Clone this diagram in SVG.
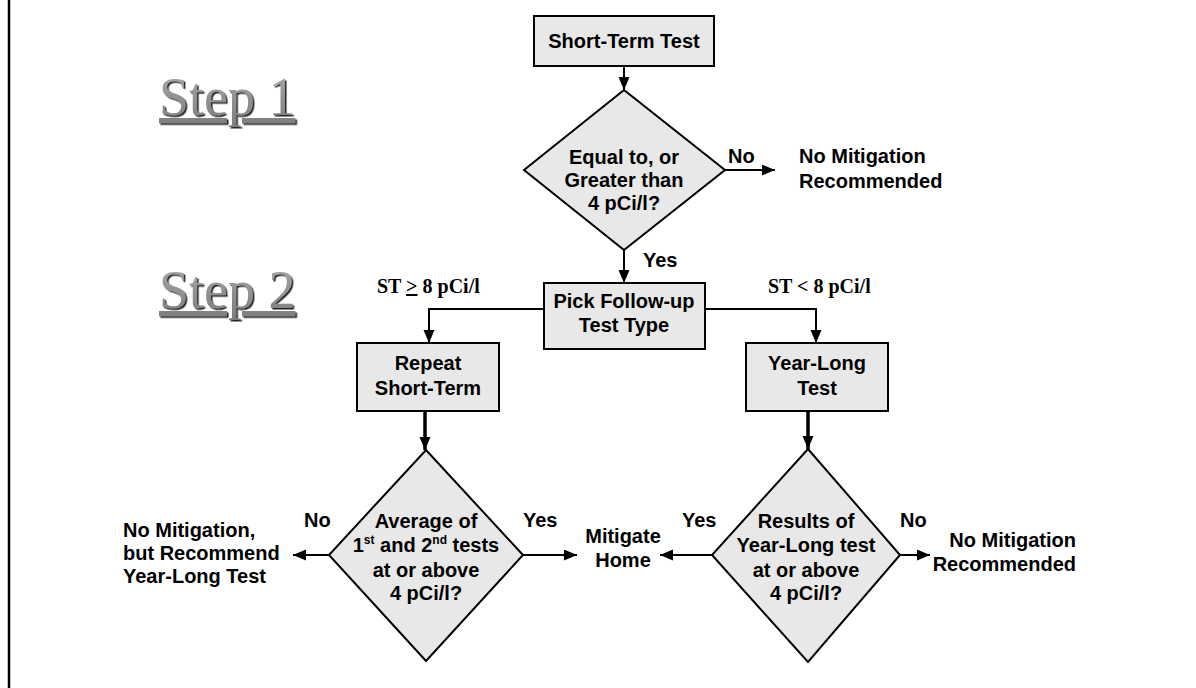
<svg xmlns="http://www.w3.org/2000/svg" width="1196" height="688" viewBox="0 0 1196 688">
<style>
.t{font-family:"Liberation Sans",Arial,sans-serif;font-weight:bold;font-size:20px;fill:#000}
.c{text-anchor:middle}
.e{text-anchor:end}
.s{font-family:"Liberation Serif","Times New Roman",serif;font-weight:bold;font-size:20px;fill:#000}
.box{fill:#e8e8e8;stroke:#000;stroke-width:2}
.ln{fill:none;stroke:#000;stroke-width:2}
.thick{fill:none;stroke:#000;stroke-width:3.5}
</style>
<defs>
<linearGradient id="g" x1="0" y1="0" x2="0" y2="1">
<stop offset="0" stop-color="#aaaaaa"/>
<stop offset="1" stop-color="#7c7c7c"/>
</linearGradient>
<filter id="sh" x="-10%" y="-10%" width="130%" height="130%">
<feDropShadow dx="1.5" dy="1.5" stdDeviation="0.4" flood-color="#222" flood-opacity="1"/>
</filter>
<marker id="a" markerUnits="userSpaceOnUse" markerWidth="14" markerHeight="12" refX="13" refY="5.5" orient="auto">
<path d="M0,0 L13,5.5 L0,11 z" fill="#000"/>
</marker>
</defs>
<rect width="1196" height="688" fill="#fff"/>
<line x1="9" y1="0" x2="9" y2="688" stroke="#000" stroke-width="2.5"/>

<g id="labels-steps" font-family="'Liberation Serif', 'Times New Roman', serif" font-size="54" fill="url(#g)" filter="url(#sh)">
<text x="159" y="115" text-decoration="underline">Step 1</text>
<text x="159" y="308" text-decoration="underline">Step 2</text>
</g>

<g id="connectors">
<line class="ln" x1="624" y1="66" x2="624" y2="90" marker-end="url(#a)"/>
<line class="ln" x1="725" y1="170" x2="775" y2="170" marker-end="url(#a)"/>
<line class="ln" x1="624" y1="250" x2="624" y2="283" marker-end="url(#a)"/>
<polyline class="ln" points="544,309 429,309 429,343" marker-end="url(#a)"/>
<polyline class="ln" points="705,309 816,309 816,343" marker-end="url(#a)"/>
<line class="thick" x1="425" y1="411" x2="425" y2="450" marker-end="url(#a)"/>
<line class="thick" x1="808" y1="411" x2="808" y2="449" marker-end="url(#a)"/>
<line class="ln" x1="329" y1="555" x2="293" y2="555" marker-end="url(#a)"/>
<line class="ln" x1="523" y1="555" x2="577" y2="555" marker-end="url(#a)"/>
<line class="ln" x1="712" y1="555" x2="660" y2="555" marker-end="url(#a)"/>
<line class="ln" x1="900" y1="555" x2="930" y2="555" marker-end="url(#a)"/>
<text class="t" x="728" y="163">No</text>
<text class="t" x="643" y="267">Yes</text>
<text class="s" x="377" y="293">ST <tspan text-decoration="underline">&gt;</tspan> 8 pCi/l</text>
<text class="s" x="768" y="293">ST &lt; 8 pCi/l</text>
<text class="t" x="304" y="527">No</text>
<text class="t" x="523" y="527">Yes</text>
<text class="t" x="682" y="527">Yes</text>
<text class="t" x="900" y="527">No</text>
</g>

<g id="short-term-test">
<rect class="box" x="534" y="16" width="180" height="50"/>
<text class="t c" x="624" y="48">Short-Term Test</text>
</g>

<g id="decision-1">
<polygon class="box" points="624,90 725,170 624,250 524,170"/>
<text class="t c" x="624" y="164">Equal to, or</text>
<text class="t c" x="624" y="187">Greater than</text>
<text class="t c" x="624" y="210">4 pCi/l?</text>
</g>

<g id="no-mitigation-1">
<text class="t" x="799" y="163">No Mitigation</text>
<text class="t" x="799" y="188">Recommended</text>
</g>

<g id="pick-follow-up">
<rect class="box" x="544" y="283" width="161" height="66"/>
<text class="t c" x="624" y="308">Pick Follow-up</text>
<text class="t c" x="624" y="332">Test Type</text>
</g>

<g id="repeat-short-term">
<rect class="box" x="357" y="343" width="142" height="68"/>
<text class="t c" x="428" y="370">Repeat</text>
<text class="t c" x="428" y="395">Short-Term</text>
</g>

<g id="year-long-test">
<rect class="box" x="746" y="343" width="142" height="68"/>
<text class="t c" x="817" y="370">Year-Long</text>
<text class="t c" x="817" y="395">Test</text>
</g>

<g id="decision-2">
<polygon class="box" points="426,450 523,555 426,661 329,555"/>
<text class="t c" x="426" y="528">Average of</text>
<text class="t c" x="426" y="552">1<tspan font-size="12" dy="-8">st</tspan><tspan dy="8"> and 2</tspan><tspan font-size="12" dy="-8">nd</tspan><tspan dy="8"> tests</tspan></text>
<text class="t c" x="426" y="577">at or above</text>
<text class="t c" x="426" y="600">4 pCi/l?</text>
</g>

<g id="decision-3">
<polygon class="box" points="808,449 900,555 808,662 712,555"/>
<text class="t c" x="806" y="528">Results of</text>
<text class="t c" x="806" y="552">Year-Long test</text>
<text class="t c" x="806" y="577">at or above</text>
<text class="t c" x="806" y="600">4 pCi/l?</text>
</g>

<g id="no-mitigation-recommend-year-long">
<text class="t" x="123" y="537">No Mitigation,</text>
<text class="t" x="123" y="560">but Recommend</text>
<text class="t" x="123" y="583">Year-Long Test</text>
</g>

<g id="mitigate-home">
<text class="t c" x="623" y="543">Mitigate</text>
<text class="t c" x="623" y="567">Home</text>
</g>

<g id="no-mitigation-2">
<text class="t e" x="1076" y="547">No Mitigation</text>
<text class="t e" x="1076" y="571">Recommended</text>
</g>
</svg>
